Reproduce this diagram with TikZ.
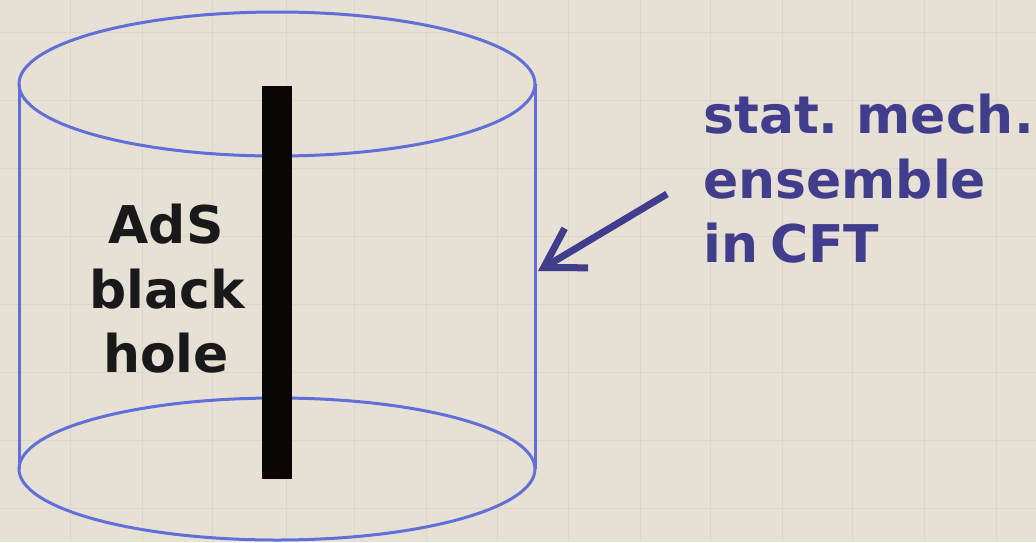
\documentclass[tikz,border=0pt]{standalone}
\usepackage{fontspec}
\setmainfont{DejaVu Sans}
\usetikzlibrary{arrows.meta}
\definecolor{bgcol}{HTML}{E6E0D5}
\definecolor{gridcol}{HTML}{DDD6CA}
\definecolor{cylcol}{HTML}{6070D8}
\definecolor{txtcol}{HTML}{3F3D8C}
\tikzset{
  cylline/.style={draw=cylcol, line width=3pt},
  bigtext/.style={font=\bfseries\fontsize{52}{64}\selectfont, inner sep=0pt},
  bhtext/.style={bigtext, text=black!90, anchor=base},
  cfttext/.style={bigtext, text=txtcol, anchor=base west, execute at begin node={\spaceskip=12pt\relax}},
  pointer/.style={draw=txtcol, line width=7pt, -{Straight Barb[length=38pt, width=46pt, line width=7pt]}}
}
\begin{document}
\begin{tikzpicture}[x=1pt, y=-1pt]
\useasboundingbox (0,0) rectangle (1036,542);
\fill[bgcol] (0,0) rectangle (1036,542);
% faint background grid
\foreach \gx in {70,142,212,286,354,426,497,568,640,710,782,852,924,996}
  \draw[gridcol, line width=0.8pt] (\gx,0) -- (\gx,542);
\foreach \gy in {32,100,168,236,304,372,440,508}
  \draw[gridcol, line width=0.8pt] (0,\gy) -- (1036,\gy);
% cylinder
\coordinate (topc) at (277,84);
\coordinate (botc) at (277,469);
\draw[cylline] (topc) ellipse [x radius=258, y radius=72];
\draw[cylline] (botc) ellipse [x radius=258, y radius=71];
\draw[cylline] (19,84) -- (19,469);
\draw[cylline] (535,84) -- (535,469);
% black hole bar
\fill[black!95!brown] (262,86) rectangle (292,479);
% labels
\node[bhtext] (ads) at (166,243) {AdS};
\node[bhtext] (blk) at (167,308) {black};
\node[bhtext] (hol) at (166,372) {hole};
\node[cfttext] (l1) at (703,133) {stat. mech.};
\node[cfttext] (l2) at (703,198) {ensemble};
\node[cfttext] (l3) at (703,262) {in CFT};
% arrow
\coordinate (arrfrom) at (667,194);
\coordinate (arrtip) at (538,271);
\draw[pointer] (arrfrom) -- (arrtip);
\end{tikzpicture}
\end{document}
